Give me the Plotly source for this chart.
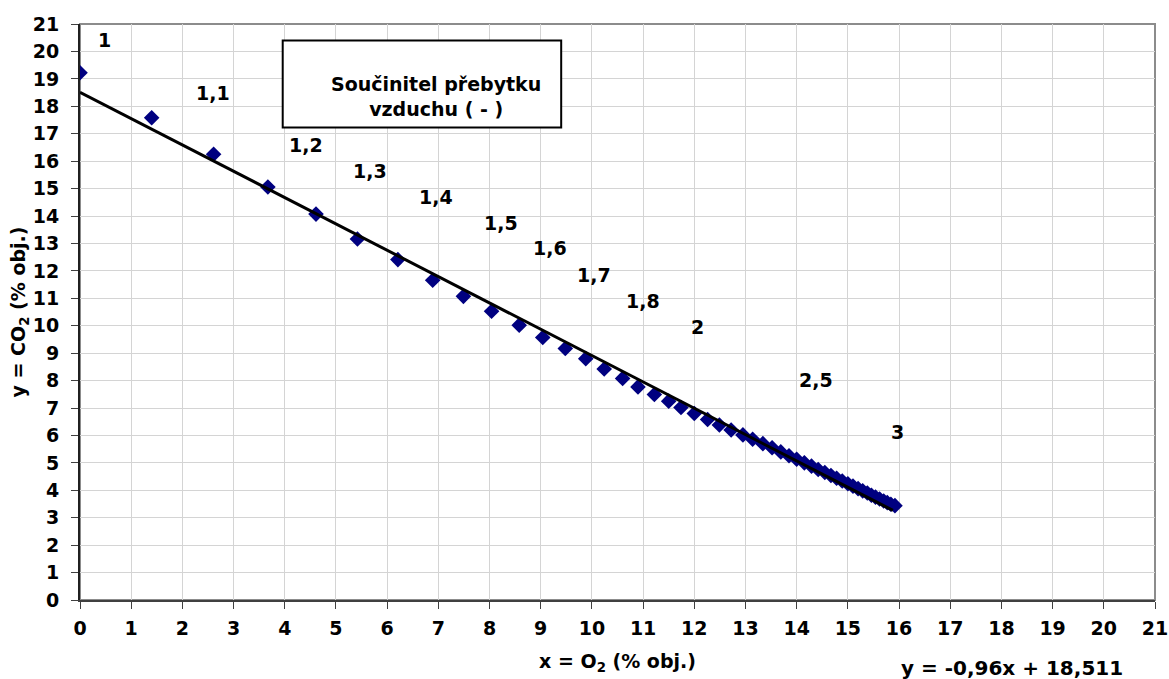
import plotly.graph_objects as go
import numpy as np

# O2 (% obj.) and CO2 (% obj.) values
o2 = [0.00, 1.40, 2.61, 3.67, 4.61, 5.42, 6.21, 6.89, 7.49, 8.04, 8.58, 9.04, 9.48,
      9.88, 10.24, 10.60, 10.90, 11.22, 11.50, 11.74, 12.00, 12.26, 12.49, 12.72,
      12.95, 13.14, 13.34, 13.52, 13.69, 13.85, 14.00, 14.15, 14.29, 14.42, 14.55,
      14.67, 14.78, 14.89, 15.00, 15.10, 15.20, 15.29, 15.38, 15.46, 15.54, 15.62,
      15.70, 15.77, 15.84, 15.92]
co2 = [19.22, 17.58, 16.25, 15.06, 14.07, 13.16, 12.41, 11.66, 11.07, 10.53, 10.02,
       9.57, 9.17, 8.80, 8.42, 8.08, 7.77, 7.49, 7.25, 7.02, 6.80, 6.58, 6.38, 6.20,
       6.02, 5.86, 5.70, 5.55, 5.40, 5.26, 5.13, 5.00, 4.88, 4.76, 4.65, 4.54, 4.44,
       4.34, 4.24, 4.15, 4.06, 3.98, 3.90, 3.82, 3.75, 3.68, 3.61, 3.55, 3.49, 3.44]

# Linear trendline as shown on the chart
slope = -0.96
intercept = 18.511

# Excess air coefficient labels and their positions (data coords)
lambda_labels = ["1", "1,1", "1,2", "1,3", "1,4", "1,5", "1,6", "1,7", "1,8", "2", "2,5", "3"]
label_x = [0.48, 2.59, 4.42, 5.67, 6.96, 8.23, 9.19, 10.05, 11.0, 12.06, 14.37, 15.97]
label_y = [20.4, 18.5, 16.58, 15.63, 14.68, 13.73, 12.82, 11.84, 10.89, 9.95, 8.01, 6.12]

ticks = list(range(0, 22))

FONT = "DejaVu Sans, Liberation Sans, Arial, sans-serif"

fig = go.Figure()

fig.add_trace(go.Scatter(
    x=o2, y=co2, mode="markers",
    marker=dict(symbol="diamond", size=12, color="#000080",
                line=dict(width=0)),
    showlegend=False, hoverinfo="x+y"))

x_line = np.array([min(o2), 15.88])
fig.add_trace(go.Scatter(
    x=x_line, y=slope * x_line + intercept, mode="lines",
    line=dict(color="black", width=3), showlegend=False, hoverinfo="skip"))

for t, lx, ly in zip(lambda_labels, label_x, label_y):
    fig.add_annotation(x=lx, y=ly, text=t, showarrow=False,
                       font=dict(family=FONT, size=19, color="black", weight=700))

fig.update_layout(
    width=1169, height=679,
    margin=dict(l=80, r=14, t=24, b=79),
    paper_bgcolor="white", plot_bgcolor="white",
    font=dict(family=FONT, color="black"),
    xaxis=dict(range=[0, 21], tickvals=ticks, ticktext=[str(t) for t in ticks],
               showgrid=True, gridcolor="#d4d4d4", gridwidth=1,
               showline=True, linecolor="#404040", linewidth=2,
               ticks="outside", ticklen=7, tickcolor="#404040", automargin=False,
               ticklabelstandoff=3,
               tickfont=dict(family=FONT, size=19, weight=700), zeroline=False,
               title=dict(text="x = O<sub>2</sub> (% obj.)", standoff=17,
                          font=dict(family=FONT, size=19, weight=700))),
    yaxis=dict(range=[0, 21], tickvals=ticks, ticktext=[str(t) for t in ticks],
               showgrid=True, gridcolor="#d4d4d4", gridwidth=1,
               showline=True, linecolor="#202020", linewidth=2,
               ticks="outside", ticklen=7, tickcolor="#404040", automargin=False,
               ticklabelstandoff=8,
               tickfont=dict(family=FONT, size=19, weight=700), zeroline=False,
               title=dict(text="y = CO<sub>2</sub> (% obj.)", standoff=2,
                          font=dict(family=FONT, size=19, weight=700))),
)

# plot area border (top and right)
fig.add_shape(type="rect", xref="paper", yref="paper", x0=0, y0=0, x1=1, y1=1,
              line=dict(color="#8c8c8c", width=2), layer="below")

# text box
fig.add_shape(type="rect", xref="x", yref="y", x0=3.96, y0=17.23, x1=9.4, y1=20.4,
              line=dict(color="black", width=2), fillcolor="white", layer="above")
fig.add_annotation(x=6.96, y=18.34, xref="x", yref="y",
                   text="Součinitel přebytku<br>vzduchu ( - )",
                   showarrow=False, align="center",
                   font=dict(family=FONT, size=19, color="black", weight=700))

# trendline equation
fig.add_annotation(x=0.867, y=-0.118, xref="paper", yref="paper",
                   xanchor="center", yanchor="middle",
                   text="y = -0,96x + 18,511", showarrow=False,
                   font=dict(family=FONT, size=20, color="black", weight=700))

fig.write_html("out.html")
